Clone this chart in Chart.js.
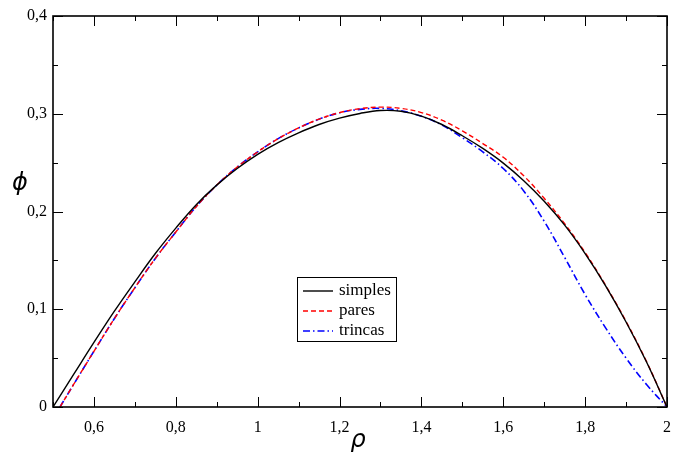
<!DOCTYPE html>
<html>
<head>
<meta charset="utf-8">
<script src="https://cdn.jsdelivr.net/npm/chart.js@4.4.1/dist/chart.umd.min.js"></script>
<style>
  html, body { margin: 0; padding: 0; background: #fff; }
  canvas { display: block; }
</style>
</head>
<body>
<canvas id="grafico" width="682" height="453"></canvas>
<script>
// valores
const rhoSimples = [0.50, 0.55, 0.60, 0.65, 0.70, 0.75, 0.80, 0.85, 0.90, 0.95, 1.00, 1.05, 1.10, 1.15, 1.20, 1.25,
  1.30, 1.35, 1.40, 1.45, 1.50, 1.55, 1.60, 1.65, 1.70, 1.75, 1.80, 1.85, 1.90, 1.95, 2.00];
const phiSimples = [0, 0.033, 0.066, 0.098, 0.128, 0.157, 0.183, 0.207, 0.227, 0.244, 0.2585, 0.2705, 0.2805, 0.289, 0.2955, 0.3003,
  0.3033, 0.3025, 0.2975, 0.289, 0.2775, 0.2645, 0.2495, 0.2315, 0.2105, 0.186, 0.157, 0.124, 0.087, 0.046, 0];

const rhoPares = [0.517, 0.55, 0.60, 0.65, 0.70, 0.75, 0.80, 0.85, 0.90, 0.95, 1.00, 1.05, 1.10, 1.15, 1.20, 1.25,
  1.30, 1.35, 1.40, 1.45, 1.50, 1.55, 1.60, 1.65, 1.70, 1.75, 1.80, 1.85, 1.90, 1.95, 2.00];
const phiPares = [0, 0.0228, 0.057, 0.0905, 0.122, 0.152, 0.179, 0.205, 0.227, 0.2455, 0.261, 0.2745, 0.2855, 0.2945, 0.3012, 0.3052,
  0.3068, 0.3055, 0.3012, 0.2935, 0.2825, 0.2695, 0.2555, 0.2365, 0.2135, 0.1875, 0.158, 0.1245, 0.0875, 0.0465, 0];

const rhoTrincas = [0.517, 0.55, 0.60, 0.65, 0.70, 0.75, 0.80, 0.85, 0.90, 0.95, 1.00, 1.05, 1.10, 1.15, 1.20, 1.25,
  1.30, 1.35, 1.40, 1.45, 1.50, 1.55, 1.60, 1.65, 1.70, 1.75, 1.80, 1.85, 1.90, 1.95, 2.00];
const phiTrincas = [0, 0.0228, 0.057, 0.0905, 0.122, 0.152, 0.179, 0.205, 0.227, 0.2455, 0.261, 0.2745, 0.2855, 0.2945, 0.301, 0.3045,
  0.3055, 0.303, 0.2975, 0.2885, 0.2755, 0.261, 0.244, 0.221, 0.19, 0.153, 0.115, 0.081, 0.050, 0.023, 0];

const ticksX = [0.6, 0.8, 1.0, 1.2, 1.4, 1.6, 1.8, 2.0];
const ticksXMenores = [0.5, 0.7, 0.9, 1.1, 1.3, 1.5, 1.7, 1.9];
const ticksY = [0, 0.1, 0.2, 0.3, 0.4];
const ticksYMenores = [0.05, 0.15, 0.25, 0.35];

const fuenteSerif = "'Liberation Serif', 'Times New Roman', serif";

function formatear(v) {
  const r = Math.round(v * 10) / 10;
  return String(r).replace('.', ',');
}

function aPuntos(xs, ys) {
  return xs.map((x, i) => ({ x: x, y: ys[i] }));
}

// marco, marcas hacia adentro, títulos y leyenda
const marcoPlugin = {
  id: 'marco',
  afterDatasetsDraw(chart) {
    const { ctx, chartArea: a, scales: { x, y } } = chart;
    ctx.save();
    ctx.strokeStyle = '#000';
    ctx.lineWidth = 1;
    ctx.beginPath();
    const marca = (vals, largo) => {
      vals.forEach(v => {
        const px = Math.round(x.getPixelForValue(v)) + 0.5;
        ctx.moveTo(px, a.bottom); ctx.lineTo(px, a.bottom - largo);
        ctx.moveTo(px, a.top); ctx.lineTo(px, a.top + largo);
      });
    };
    const marcaY = (vals, largo) => {
      vals.forEach(v => {
        const py = Math.round(y.getPixelForValue(v)) + 0.5;
        ctx.moveTo(a.left, py); ctx.lineTo(a.left + largo, py);
        ctx.moveTo(a.right, py); ctx.lineTo(a.right - largo, py);
      });
    };
    marca(ticksX, 10);
    marca(ticksXMenores, 5);
    marcaY(ticksY, 10);
    marcaY(ticksYMenores, 5);
    ctx.stroke();

    ctx.lineWidth = 1.6;
    ctx.strokeRect(a.left, a.top, a.right - a.left, a.bottom - a.top);

    // títulos de ejes
    ctx.fillStyle = '#000';
    ctx.font = "italic 24px 'DejaVu Sans'";
    ctx.textAlign = 'center';
    ctx.textBaseline = 'alphabetic';
    ctx.fillText('ρ', 358, 447);
    ctx.fillText('ϕ', 20, 190);

    // leyenda
    const caja = { x: 297.5, y: 277.5, w: 99, h: 64 };
    ctx.fillStyle = '#fff';
    ctx.fillRect(caja.x, caja.y, caja.w, caja.h);
    ctx.lineWidth = 1;
    ctx.strokeRect(caja.x, caja.y, caja.w, caja.h);
    ctx.font = '17px ' + fuenteSerif;
    ctx.textAlign = 'left';
    ctx.textBaseline = 'middle';
    chart.data.datasets.forEach((ds, i) => {
      const yy = 291 + i * 20;
      ctx.beginPath();
      ctx.strokeStyle = ds.borderColor;
      ctx.lineWidth = ds.borderWidth;
      ctx.setLineDash(ds.borderDash || []);
      ctx.moveTo(303, yy);
      ctx.lineTo(333, yy);
      ctx.stroke();
      ctx.setLineDash([]);
      ctx.fillStyle = '#000';
      ctx.fillText(ds.label, 339, yy);
    });
    ctx.restore();
  }
};

const ctx = document.getElementById('grafico');
new Chart(ctx, {
  type: 'line',
  data: {
    datasets: [
      {
        label: 'simples',
        data: aPuntos(rhoSimples, phiSimples),
        borderColor: '#000000',
        borderWidth: 1.4,
        pointRadius: 0,
        tension: 0.4,
        fill: false
      },
      {
        label: 'pares',
        data: aPuntos(rhoPares, phiPares),
        borderColor: '#ff0000',
        borderWidth: 1.4,
        borderDash: [5, 3],
        pointRadius: 0,
        tension: 0.4,
        fill: false
      },
      {
        label: 'trincas',
        data: aPuntos(rhoTrincas, phiTrincas),
        borderColor: '#0000ff',
        borderWidth: 1.6,
        borderDash: [7, 3, 1.5, 3],
        pointRadius: 0,
        tension: 0.4,
        fill: false
      }
    ]
  },
  options: {
    responsive: false,
    animation: false,
    devicePixelRatio: 1,
    layout: { padding: { top: 16, right: 3, left: 0, bottom: 0 } },
    plugins: { legend: { display: false }, tooltip: { enabled: false } },
    scales: {
      x: {
        type: 'linear',
        min: 0.5,
        max: 2,
        grid: { display: false, drawTicks: false },
        border: { display: false },
        afterBuildTicks: s => { s.ticks = ticksX.map(v => ({ value: v })); },
        afterFit: s => { s.height = 46; },
        ticks: {
          padding: 11,
          autoSkip: false,
          maxRotation: 0,
          color: '#000',
          font: { family: fuenteSerif, size: 16 },
          callback: v => formatear(v)
        }
      },
      y: {
        type: 'linear',
        min: 0,
        max: 0.4,
        grid: { display: false, drawTicks: false },
        border: { display: false },
        afterBuildTicks: s => { s.ticks = ticksY.map(v => ({ value: v })); },
        afterFit: s => { s.width = 53; },
        ticks: {
          padding: 6,
          color: '#000',
          font: { family: fuenteSerif, size: 16 },
          callback: v => formatear(v)
        }
      }
    }
  },
  plugins: [marcoPlugin]
});
</script>
</body>
</html>
